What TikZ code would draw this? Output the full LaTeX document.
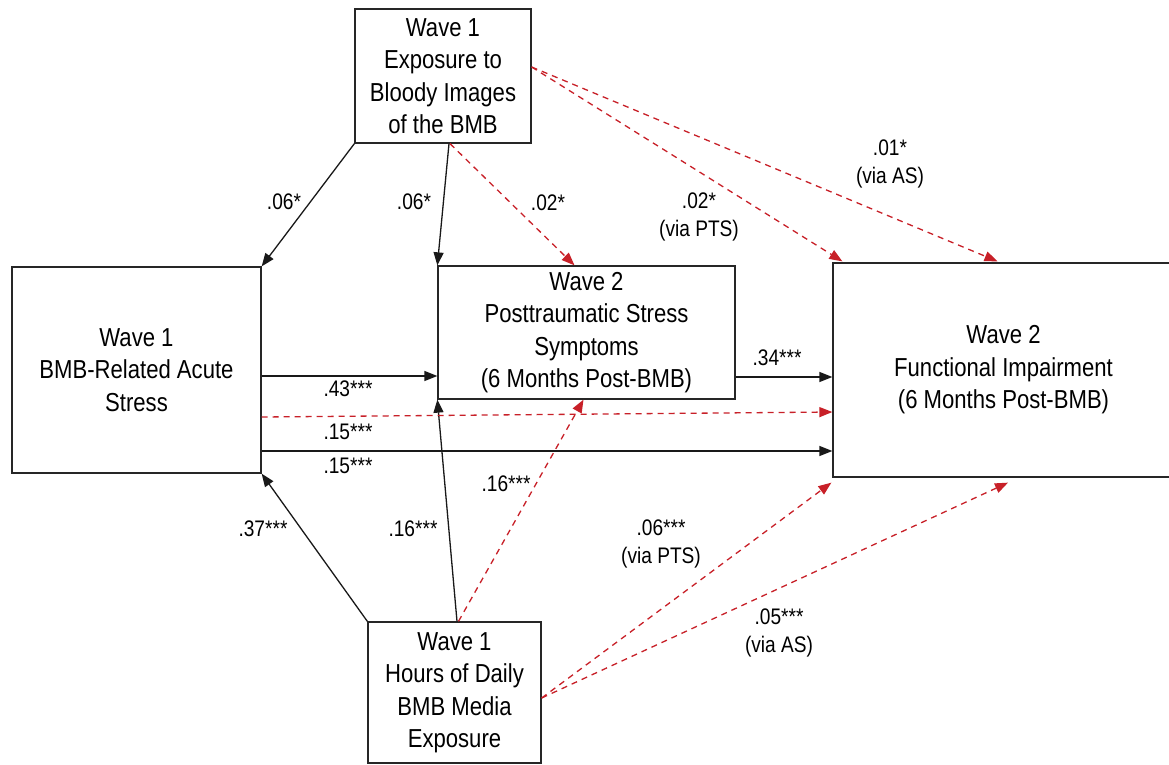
\documentclass[tikz,border=0pt]{standalone}
\usepackage{fontspec}
\setmainfont{Liberation Sans}[FakeStretch=0.85]
\usetikzlibrary{arrows.meta,calc}
\definecolor{pathred}{RGB}{200,32,40}
\begin{document}
\begin{tikzpicture}[x=1pt,y=-1pt,
  box/.style={draw=black!85, line width=1.3pt, align=center, font=\fontsize{26}{32.5}\selectfont, inner sep=0pt},
  lab/.style={align=center, font=\fontsize{22.5}{27.5}\selectfont, inner sep=0pt},
  solidarr/.style={draw=black!90, line width=1.3pt, -{Triangle[length=13pt,width=10pt]}},
  redarr/.style={draw=pathred, line width=1.3pt, dash pattern=on 6pt off 5pt, -{Triangle[length=13pt,width=10pt]}},
]
\useasboundingbox (0,0) rectangle (1169,764);
\fill[white] (0,0) rectangle (1169,764);

% boxes
\node[box, minimum width=176pt, minimum height=134pt] (top) at (443,76)
  {Wave 1\\Exposure to\\Bloody Images\\of the BMB};
\node[box, minimum width=249pt, minimum height=206pt] (left) at (136.5,370)
  {Wave 1\\BMB-Related Acute\\Stress};
\node[box, minimum width=297pt, minimum height=133pt] (mid) at (586.5,332.5)
  {Wave 2\\Posttraumatic Stress\\Symptoms\\(6 Months Post-BMB)};
\node[box, minimum width=341pt, minimum height=214pt] (right) at (1003.5,370)
  {Wave 2\\Functional Impairment\\(6 Months Post-BMB)};
\node[box, minimum width=173pt, minimum height=141pt] (bot) at (454.5,692.5)
  {Wave 1\\Hours of Daily\\BMB Media\\Exposure};

% solid paths
\draw[solidarr] (top.south west) -- (left.north east);
\draw[solidarr] ([xshift=6pt]top.south) -- (mid.north west);
\draw[solidarr] ([yshift=-6pt]left.east) -- ([yshift=-6pt]left.east -| mid.west);
\draw[solidarr] ([yshift=-81pt]left.east) -- ([yshift=-81pt]left.east -| right.west);
\draw[solidarr] ([yshift=-44.5pt]mid.east) -- ([yshift=-44.5pt]mid.east -| right.west);
\draw[solidarr] (bot.north west) -- (left.south east);
\draw[solidarr] ([xshift=2.5pt]bot.north) -- (mid.south west);

% indirect (red dashed) paths
\draw[redarr] ([xshift=7pt]top.south) -- ([xshift=-12pt]mid.north);
\draw[redarr] ([yshift=9pt]top.east) -- ([xshift=10pt,yshift=1pt]right.north west);
\draw[redarr] ([yshift=9pt]top.east) -- ([xshift=-6pt,yshift=1pt]right.north);
\draw[redarr] ([yshift=-47pt]left.east) -- ([yshift=-42pt]right.west);
\draw[redarr] ([xshift=4pt]bot.north) -- ([xshift=-3pt]mid.south);
\draw[redarr] ([yshift=-5.5pt]bot.east) -- ([xshift=-1pt,yshift=-5pt]right.south west);
\draw[redarr] ([yshift=-5.5pt]bot.east) -- ([xshift=4.5pt,yshift=-5pt]right.south);

% labels
\node[lab] (l1) at (284,202) {.06*};
\node[lab] (l2) at (414,202) {.06*};
\node[lab] (l3) at (548,203) {.02*};
\node[lab] (l4) at (699,217) {.02*\\(via PTS)};
\node[lab] (l5) at (890,164) {.01*\\(via AS)};
\node[lab] (l6) at (348,389) {.43***};
\node[lab] (l7) at (348,432) {.15***};
\node[lab] (l8) at (348,466) {.15***};
\node[lab] (l9) at (777,358) {.34***};
\node[lab] (l10) at (263,529) {.37***};
\node[lab] (l11) at (413,529) {.16***};
\node[lab] (l12) at (506,484) {.16***};
\node[lab] (l13) at (661,544) {.06***\\(via PTS)};
\node[lab] (l14) at (779,633) {.05***\\(via AS)};
\end{tikzpicture}
\end{document}
